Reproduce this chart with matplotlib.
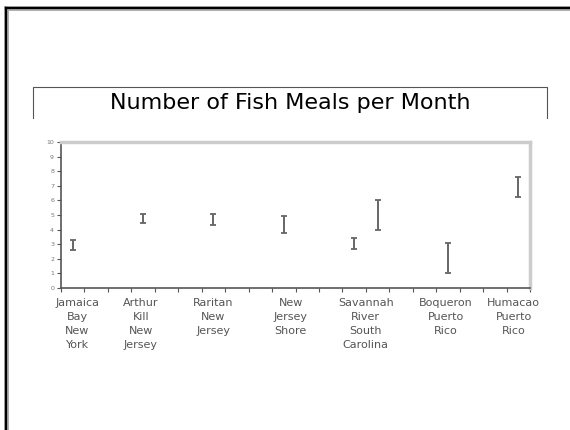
import numpy as np
import matplotlib.pyplot as plt
from matplotlib.lines import Line2D

# error bar positions and ranges (low / high)
positions = [0.5, 3.5, 6.5, 9.5, 12.5, 13.5, 16.5, 19.5]
low = [2.6, 4.45, 4.3, 3.8, 2.7, 4.0, 1.0, 6.2]
high = [3.3, 5.1, 5.1, 4.9, 3.4, 6.0, 3.1, 7.6]

label_pos = [0.7, 3.4, 6.5, 9.8, 13.0, 16.4, 19.3]
labels = ['Jamaica\nBay\nNew\nYork', 'Arthur\nKill\nNew\nJersey', 'Raritan\nNew\nJersey',
          'New\nJersey\nShore', 'Savannah\nRiver\nSouth\nCarolina', 'Boqueron\nPuerto\nRico',
          'Humacao\nPuerto\nRico']
yticks = list(range(0, 11))

W, H = 570, 430
fig = plt.figure(figsize=(W / 100, H / 100), dpi=100)

def fx(px):
    return px / W

def fy(py):
    return 1 - py / H

# slide frame (left and top)
fig.add_artist(Line2D([fx(6), fx(6)], [fy(8), 0], color='#aaaaaa', lw=3.5, transform=fig.transFigure))
fig.add_artist(Line2D([fx(6), 1], [fy(8), fy(8)], color='#aaaaaa', lw=3.5, transform=fig.transFigure))
fig.add_artist(Line2D([fx(6), fx(6)], [fy(8), 0], color='black', lw=1.6, transform=fig.transFigure))
fig.add_artist(Line2D([fx(6), 1], [fy(8), fy(8)], color='black', lw=1.6, transform=fig.transFigure))

# title box
fig.add_artist(Line2D([fx(33), fx(33), fx(547), fx(547)], [fy(118), fy(87), fy(87), fy(118)],
                      color='#555555', lw=0.8, transform=fig.transFigure))
fig.text(fx(290), fy(103), 'Number of Fish Meals per Month', ha='center', va='center',
         fontsize=16, color='black', family='DejaVu Sans')

ax = fig.add_axes([fx(61), fy(288), fx(530) - fx(61), fy(142) - fy(288)])

mid = (np.array(low) + np.array(high)) / 2
err = (np.array(high) - np.array(low)) / 2
ax.errorbar(positions, mid, yerr=err, fmt='none', ecolor='#666666', elinewidth=1.4,
            capsize=2.5, capthick=1.3)

ax.set_xlim(0, 20)
ax.set_ylim(0, 10)
ax.set_xticks(range(21))
ax.set_xticklabels([])
ax.set_yticks(yticks)
ax.set_yticklabels([str(v) for v in yticks], fontsize=4.5, color='#777777')
ax.tick_params(axis='both', length=3, width=0.8, color='#555555', pad=2)

for side in ['top', 'right']:
    ax.spines[side].set_color('#cccccc')
    ax.spines[side].set_linewidth(2.5)
for side in ['left', 'bottom']:
    ax.spines[side].set_color('#555555')
    ax.spines[side].set_linewidth(1.2)

for x, lab in zip(label_pos, labels):
    ax.text(x, -0.07, lab, transform=ax.get_xaxis_transform(), ha='center', va='top',
            fontsize=8, color='#555555', linespacing=1.5)

fig.savefig('out.png', dpi=100)
